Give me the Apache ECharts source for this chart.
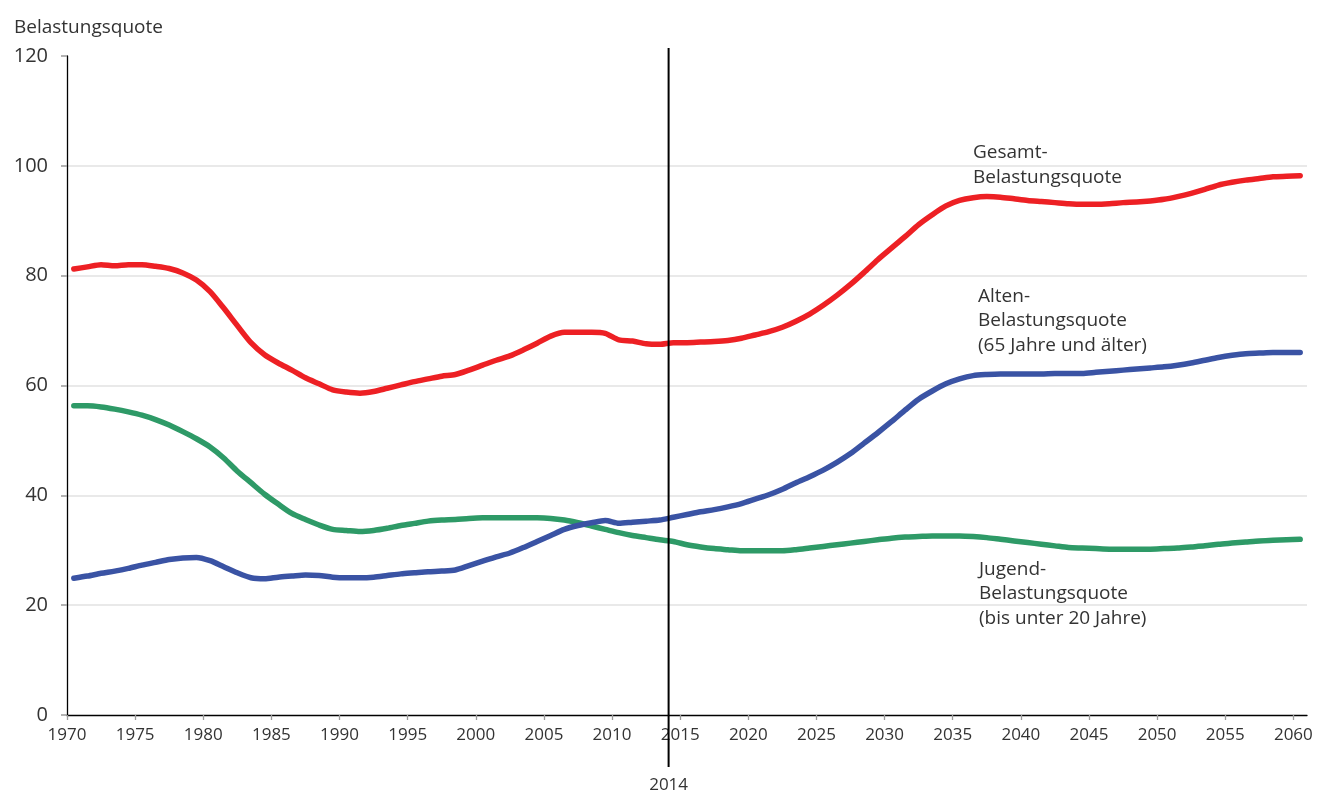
<!DOCTYPE html>
<html>
<head>
<meta charset="utf-8">
<script src="https://cdn.jsdelivr.net/npm/echarts@6/dist/echarts.min.js"></script>
<style>
html,body{margin:0;padding:0;background:#fff;}
#chart{width:1323px;height:792px;}
</style>
</head>
<body>
<div id="chart"></div>
<script>
// ---- Data ----
const startYear = 1970;
const gesamt = [
81.2,81.6,82.0,81.8,82.0,82.0,81.7,81.3,80.5,79.2,
77.1,74.1,70.9,67.8,65.6,64.1,62.8,61.4,60.3,59.2,
58.8,58.6,58.9,59.5,60.1,60.7,61.2,61.7,62.0,62.8,
63.7,64.6,65.4,66.5,67.7,69.0,69.7,69.7,69.7,69.5,
68.3,68.1,67.6,67.5,67.8,67.8,67.9,68.0,68.2,68.6,
69.2,69.8,70.6,71.7,73.0,74.6,76.4,78.4,80.6,82.9,
85.0,87.1,89.3,91.1,92.7,93.7,94.2,94.4,94.3,94.0,
93.7,93.5,93.3,93.1,93.0,93.0,93.1,93.3,93.4,93.6,
93.9,94.4,95.0,95.7,96.5,97.0,97.4,97.7,98.0,98.1,
98.2
];
const alten = [
24.9,25.3,25.8,26.2,26.7,27.3,27.8,28.3,28.6,28.7,
28.1,27.0,25.9,25.0,24.8,25.1,25.3,25.5,25.4,25.1,
25.0,25.0,25.1,25.4,25.7,25.9,26.1,26.2,26.4,27.2,
28.0,28.8,29.5,30.5,31.6,32.7,33.8,34.5,35.0,35.4,
34.9,35.1,35.3,35.5,36.0,36.5,37.0,37.4,37.9,38.5,
39.3,40.1,41.1,42.3,43.4,44.6,46.0,47.6,49.5,51.4,
53.4,55.5,57.5,59.0,60.3,61.2,61.8,62.0,62.1,62.1,
62.1,62.1,62.2,62.2,62.2,62.4,62.6,62.8,63.0,63.2,
63.4,63.7,64.1,64.6,65.1,65.5,65.8,65.9,66.0,66.0,
66.0
];
const jugend = [
56.3,56.3,56.1,55.7,55.2,54.6,53.8,52.8,51.6,50.3,
48.8,46.8,44.4,42.3,40.2,38.4,36.7,35.6,34.6,33.8,
33.6,33.4,33.6,34.0,34.5,34.9,35.3,35.5,35.6,35.8,
35.9,35.9,35.9,35.9,35.9,35.8,35.5,35.0,34.4,33.8,
33.2,32.7,32.3,31.9,31.6,31.0,30.6,30.3,30.1,29.9,
29.9,29.9,29.9,30.1,30.4,30.7,31.0,31.3,31.6,31.9,
32.2,32.4,32.5,32.6,32.6,32.6,32.5,32.3,32.0,31.7,
31.4,31.1,30.8,30.5,30.4,30.3,30.2,30.2,30.2,30.2,
30.3,30.4,30.6,30.8,31.1,31.3,31.5,31.7,31.8,31.9,
32.0
];
const xTicks = [1970,1975,1980,1985,1990,1995,2000,2005,2010,2015,2020,2025,2030,2035,2040,2045,2050,2055,2060];
const yTicks = [0,20,40,60,80,100,120];
const dividerYear = 2014;
const seriesNames = ['Gesamt-Belastungsquote','Alten-Belastungsquote','Jugend-Belastungsquote'];
const yTitle = 'Belastungsquote';
const labelGesamt = 'Gesamt-\nBelastungsquote';
const labelAlten = 'Alten-\nBelastungsquote\n(65 Jahre und älter)';
const labelJugend = 'Jugend-\nBelastungsquote\n(bis unter 20 Jahre)';

// values are annual; plotted at mid-year
const toPoints = arr => arr.map((v, i) => [startYear + i + 0.5, v]);

const FONT = '"Open Sans", "Noto Sans", sans-serif';
const TXT = '#333333';

const chart = echarts.init(document.getElementById('chart'), null, {renderer: 'canvas'});
chart.setOption({
  animation: false,
  backgroundColor: '#ffffff',
  textStyle: {fontFamily: FONT},
  title: {
    text: yTitle, left: 9, top: 10,
    textStyle: {fontFamily: FONT, fontSize: 19, fontWeight: 'normal', color: TXT, lineHeight: 25}
  },
  grid: {left: 67, right: 16, top: 56, bottom: 77},
  xAxis: {
    type: 'value', min: 1970, max: 2061,
    axisLine: {show: true, lineStyle: {color: '#000', width: 1.3}},
    axisTick: {show: true, customValues: xTicks, length: 5, lineStyle: {color: '#9a9a9a', width: 1.3}},
    axisLabel: {customValues: xTicks, margin: 12, fontSize: 17, color: TXT, fontFamily: FONT,
                formatter: v => String(v)},
    splitLine: {show: false}
  },
  yAxis: {
    type: 'value', min: 0, max: 120, interval: 20,
    axisLine: {show: true, lineStyle: {color: '#000', width: 1.3}},
    axisTick: {show: true, length: 6, lineStyle: {color: '#9a9a9a', width: 1.5}},
    axisLabel: {customValues: yTicks, margin: 19, fontSize: 20, color: TXT, fontFamily: FONT,
                formatter: v => String(v)},
    splitLine: {show: true, showMinLine: false, showMaxLine: false, lineStyle: {color: '#e2e2e2', width: 1.5}}
  },
  series: [
    {name: seriesNames[0], type: 'line', data: toPoints(gesamt), showSymbol: false, smooth: 0.25,
     lineStyle: {color: '#ED2024', width: 5.5, cap: 'round', join: 'round'}, z: 3},
    {name: seriesNames[1], type: 'line', data: toPoints(alten), showSymbol: false, smooth: 0.25,
     lineStyle: {color: '#3A53A4', width: 5.5, cap: 'round', join: 'round'}, z: 4},
    {name: seriesNames[2], type: 'line', data: toPoints(jugend), showSymbol: false, smooth: 0.25,
     lineStyle: {color: '#2E9A67', width: 5.5, cap: 'round', join: 'round'}, z: 3},
    {
      type: 'custom', clip: false, z: 10, silent: true,
      data: [[dividerYear + 0.15]],
      renderItem: function (params, api) {
        const top = api.coord([api.value(0), 120]);
        const bot = api.coord([api.value(0), 0]);
        return {
          type: 'group',
          children: [
            {type: 'line', shape: {x1: top[0], y1: top[1] - 8, x2: bot[0], y2: bot[1] + 52},
             style: {stroke: '#000', lineWidth: 2}},
            {type: 'text', style: {text: String(dividerYear), x: bot[0], y: bot[1] + 70,
             align: 'center', verticalAlign: 'middle', fill: TXT, font: '17px ' + FONT}}
          ]
        };
      }
    }
  ],
  graphic: [
    {type: 'text', left: 973, top: 140, style: {text: labelGesamt, font: '19px ' + FONT, fill: TXT, lineHeight: 25}},
    {type: 'text', left: 978, top: 284, style: {text: labelAlten, font: '19px ' + FONT, fill: TXT, lineHeight: 24.5}},
    {type: 'text', left: 979, top: 557, style: {text: labelJugend, font: '19px ' + FONT, fill: TXT, lineHeight: 24.5}}
  ]
});
</script>
</body>
</html>
